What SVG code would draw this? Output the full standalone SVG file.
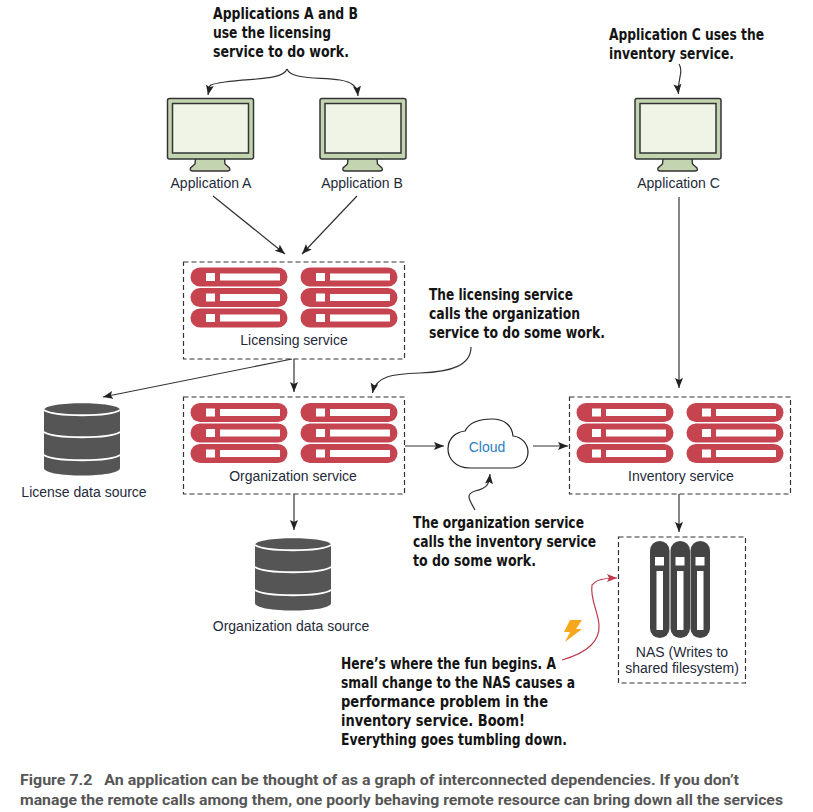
<svg xmlns="http://www.w3.org/2000/svg" width="813" height="812" viewBox="0 0 813 812">
<style>
.lbl{font-family:"Liberation Sans",Arial,sans-serif;font-size:14px;fill:#1f2a3a}
.call{font-family:"DejaVu Sans Condensed","DejaVu Sans",sans-serif;font-weight:bold;font-size:15.5px;fill:#141414}
.cap{font-family:"Roboto",sans-serif;font-weight:bold;font-size:15px;fill:#565656}
.box{fill:none;stroke:#333;stroke-width:1.2;stroke-dasharray:5 3}
.conn{fill:none;stroke:#333;stroke-width:1.2}
.red{fill:none;stroke:#c0394b;stroke-width:1.2}
</style>
<defs>
<marker id="ah" markerWidth="12" markerHeight="10" refX="10" refY="4" orient="auto" markerUnits="userSpaceOnUse"><path d="M0 0L10 4L0 8L2 4Z" fill="#222"/></marker>
<marker id="ahr" markerWidth="12" markerHeight="10" refX="10" refY="4" orient="auto" markerUnits="userSpaceOnUse"><path d="M0 0L10 4L0 8L2 4Z" fill="#c0394b"/></marker>
<g id="mon">
<path d="M28.5 60L28 66L23.5 70Q22.5 73 26 73H60Q64 73 62.5 70L58 66L57.5 60Z" fill="#c3d4b0" stroke="#333" stroke-width="1.4"/>
<rect x="0.5" y="0.5" width="86" height="60.5" rx="2" fill="#c3d4b0" stroke="#333" stroke-width="1.5"/>
<rect x="5.5" y="5.5" width="76" height="49.5" fill="#eff4e6" stroke="#333" stroke-width="1.5"/>
</g>
<g id="srv">
<rect x="0" y="0" width="97" height="19" rx="9.5" fill="#c5444f"/>
<rect x="15.5" y="5.5" width="9" height="8" fill="#fff"/>
<rect x="29.5" y="6" width="60" height="7" fill="#fff"/>
</g>
<g id="rack">
<use href="#srv"/><use href="#srv" y="20.5"/><use href="#srv" y="41"/>
<use href="#srv" x="110"/><use href="#srv" x="110" y="20.5"/><use href="#srv" x="110" y="41"/>
</g>
<g id="db">
<path d="M0 7C0 -2 76 -2 76 7V65C76 75 0 75 0 65Z" fill="#555"/>
<path d="M0 7C10 14 66 14 76 7M0 29C10 36 66 36 76 29M0 52C10 59 66 59 76 52" fill="none" stroke="#fff" stroke-width="1.8"/>
</g>
<g id="nas">
<rect width="19.5" height="97" rx="9.7" fill="#444"/>
<rect x="5" y="16" width="9" height="8.5" fill="#fff"/>
<rect x="6.5" y="30" width="6.5" height="59" fill="#fff"/>
</g>
</defs>

<g id="connectors">
<path class="conn" marker-end="url(#ah)" d="M287 69C283 80 255 78 225 82C205 85 210 85 208 95"/>
<path class="conn" marker-end="url(#ah)" d="M287 69C291 80 320 77 340 80C352 82 357 86 358 96"/>
<path class="conn" marker-end="url(#ah)" d="M679 64C684 72 677 80 678.5 94"/>
<path class="conn" marker-end="url(#ah)" d="M213 196L285 254"/>
<path class="conn" marker-end="url(#ah)" d="M357 196L302 254"/>
<path class="conn" marker-end="url(#ah)" d="M679 197V388"/>
<path class="conn" marker-end="url(#ah)" d="M294 359V392"/>
<path class="conn" marker-end="url(#ah)" d="M292 359L103 397"/>
<path class="conn" marker-end="url(#ah)" d="M471 347C471 365 452 372 420 373C392 374 376 376 372.5 393"/>
<path class="conn" marker-end="url(#ah)" d="M294 494V530"/>
<path class="conn" marker-end="url(#ah)" d="M405 446H444"/>
<path class="conn" marker-end="url(#ah)" d="M533 446H568"/>
<path class="conn" marker-end="url(#ah)" d="M679 494V532"/>
<path class="conn" marker-end="url(#ah)" d="M475 510C468 498 466 494 475 491C488 488 489 484 490 474"/>
<path class="red" marker-end="url(#ahr)" d="M562 660C590 652 600 640 599 625C598 610 590 600 592 585C594 585 592 578 617 578"/>
</g>

<g id="callouts">
<text class="call" x="213" y="19" textLength="145" lengthAdjust="spacingAndGlyphs">Applications A and B</text>
<text class="call" x="213" y="38" textLength="118" lengthAdjust="spacingAndGlyphs">use the licensing</text>
<text class="call" x="213" y="57" textLength="136" lengthAdjust="spacingAndGlyphs">service to do work.</text>
<text class="call" x="609" y="40" textLength="155" lengthAdjust="spacingAndGlyphs">Application C uses the</text>
<text class="call" x="609" y="59" textLength="125" lengthAdjust="spacingAndGlyphs">inventory service.</text>
<text class="call" x="429" y="300" textLength="144" lengthAdjust="spacingAndGlyphs">The licensing service</text>
<text class="call" x="429" y="319" textLength="151" lengthAdjust="spacingAndGlyphs">calls the organization</text>
<text class="call" x="429" y="338" textLength="176" lengthAdjust="spacingAndGlyphs">service to do some work.</text>
<text class="call" x="413" y="528" textLength="171" lengthAdjust="spacingAndGlyphs">The organization service</text>
<text class="call" x="413" y="547" textLength="183" lengthAdjust="spacingAndGlyphs">calls the inventory service</text>
<text class="call" x="413" y="566" textLength="123" lengthAdjust="spacingAndGlyphs">to do some work.</text>
<text class="call" x="341" y="669" textLength="215" lengthAdjust="spacingAndGlyphs">Here’s where the fun begins. A</text>
<text class="call" x="341" y="688" textLength="234" lengthAdjust="spacingAndGlyphs">small change to the NAS causes a</text>
<text class="call" x="341" y="707" textLength="207" lengthAdjust="spacingAndGlyphs">performance problem in the</text>
<text class="call" x="341" y="726" textLength="184" lengthAdjust="spacingAndGlyphs">inventory service. Boom!</text>
<text class="call" x="341" y="745" textLength="226" lengthAdjust="spacingAndGlyphs">Everything goes tumbling down.</text>
</g>

<g id="app-a"><use href="#mon" x="167" y="98"/><text class="lbl" x="211" y="188" text-anchor="middle">Application A</text></g>
<g id="app-b"><use href="#mon" x="319.5" y="98"/><text class="lbl" x="362" y="188" text-anchor="middle">Application B</text></g>
<g id="app-c"><use href="#mon" x="634.5" y="98"/><text class="lbl" x="678.5" y="188" text-anchor="middle">Application C</text></g>

<g id="licensing"><rect class="box" x="183.5" y="262" width="221" height="97"/><use href="#rack" x="190.5" y="267.5"/><text class="lbl" x="294" y="345" text-anchor="middle">Licensing service</text></g>
<g id="organization"><rect class="box" x="183.5" y="397" width="221" height="97"/><use href="#rack" x="190.5" y="403"/><text class="lbl" x="293" y="481" text-anchor="middle">Organization service</text></g>
<g id="inventory"><rect class="box" x="569.5" y="397" width="221" height="97"/><use href="#rack" x="576.5" y="403"/><text class="lbl" x="681" y="481" text-anchor="middle">Inventory service</text></g>

<g id="license-db"><use href="#db" x="44" y="403"/><text class="lbl" x="84" y="497" text-anchor="middle">License data source</text></g>
<g id="org-db"><use href="#db" x="255" y="538"/><text class="lbl" x="291" y="631" text-anchor="middle">Organization data source</text></g>

<g id="cloud">
<path d="M470 468C455 468 448 458 448 449C448 438 456 432 465 431C470 421 482 419 492 419C505 419 512 426 513 436C522 437 528 444 528 452C528 461 521 468 511 468Z" fill="#fff" stroke="#222" stroke-width="1.2"/>
<text x="487" y="452" text-anchor="middle" style="font-family:'Liberation Sans',Arial,sans-serif;font-size:14px;fill:#2b7ec1">Cloud</text>
</g>

<g id="nas-node">
<rect class="box" x="618.5" y="537" width="127" height="146"/>
<use href="#nas" x="650" y="541"/><use href="#nas" x="670.5" y="541"/><use href="#nas" x="690.5" y="541"/>
<text class="lbl" x="682" y="657" text-anchor="middle">NAS (Writes to</text>
<text class="lbl" x="682" y="673" text-anchor="middle">shared filesystem)</text>
</g>

<path id="bolt" d="M570 620H582L576 629H582L565 642L570 632H564Z" fill="#f5a81c"/>

<g id="caption">
<text class="cap" x="20" y="785" textLength="719" lengthAdjust="spacingAndGlyphs" xml:space="preserve">Figure 7.2   An application can be thought of as a graph of interconnected dependencies. If you don’t</text>
<text class="cap" x="20" y="805" textLength="763" lengthAdjust="spacingAndGlyphs">manage the remote calls among them, one poorly behaving remote resource can bring down all the services</text>
</g>
</svg>
